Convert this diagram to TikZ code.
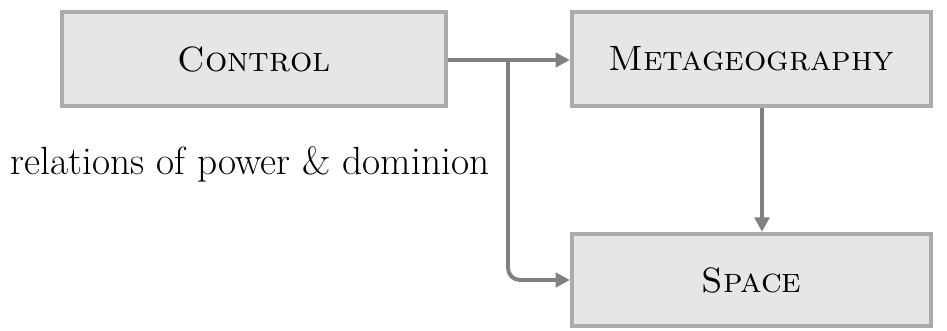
\documentclass[tikz,border=0pt]{standalone}
\usepackage{tikz}
\usetikzlibrary{arrows.meta, positioning, calc}

\definecolor{boxfill}{HTML}{E6E6E6}
\definecolor{boxline}{HTML}{ABABAB}
\definecolor{arrline}{HTML}{808080}

\tikzset{
  conceptbox/.style={draw=boxline, fill=boxfill, line width=3pt, inner sep=0pt,
    minimum height=2.35cm, font=\fontsize{25}{30}\selectfont\scshape},
  flow/.style={draw=arrline, line width=2.8pt,
    -{Triangle[length=0.36cm, width=0.36cm]}}
}

\begin{document}
\begin{tikzpicture}
			\useasboundingbox (0,0) rectangle (23.675,-8.25);
			\node[conceptbox, minimum width=9.6cm] (ctrl) at (6.35,-1.475) {Control};
			\node[conceptbox, minimum width=8.975cm] (meta) at (18.7875,-1.475) {Metageography};
			\node[conceptbox, minimum width=8.975cm, minimum height=2.3cm] (space) at (18.7875,-7.0) {Space};
			\node[font=\fontsize{28}{34}\selectfont] (rel) at (6.25,-4.1) {relations of power \& dominion};
			\coordinate (split) at (12.7,-1.5);
			\coordinate (drop) at (19.05,-1.5);
			\draw[flow] (ctrl.east |- split) -- (meta.west |- split);
			\draw[flow, rounded corners=0.3cm] (split) -- (split |- space.west) -- (space.west);
			\draw[flow] (drop |- meta.south) -- (drop |- space.north);
		\end{tikzpicture}
\end{document}
